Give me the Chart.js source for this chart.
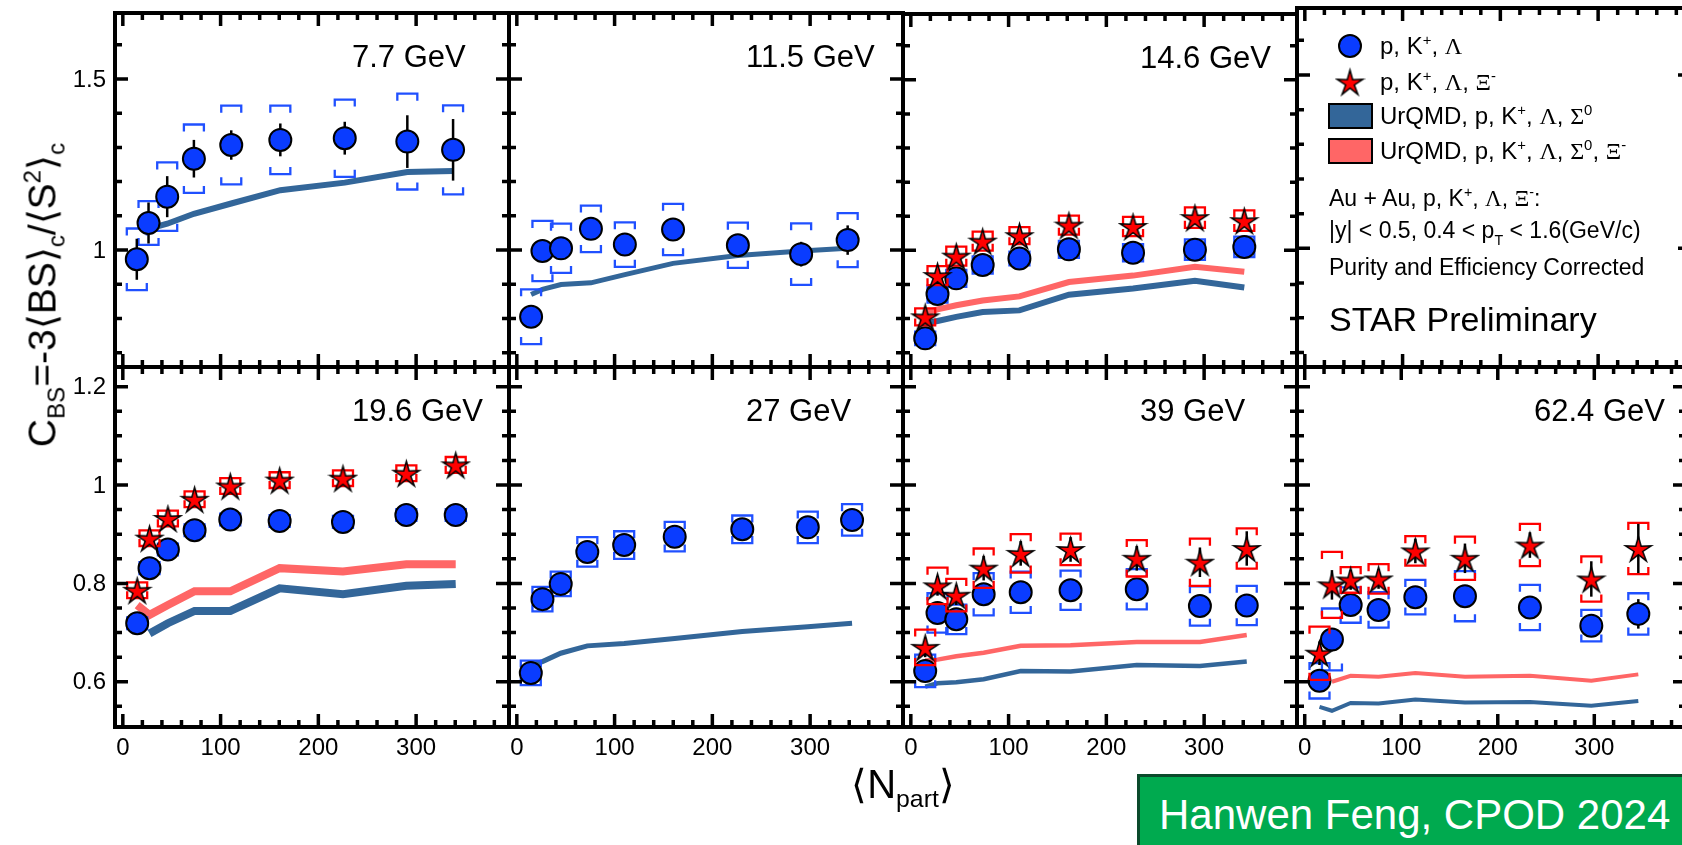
<!DOCTYPE html>
<html>
<head>
<meta charset="utf-8">
<title>C_BS vs Npart, STAR Preliminary</title>
<script src="https://cdn.jsdelivr.net/npm/chart.js@4.4.1/dist/chart.umd.min.js"></script>
<style>
  html, body { margin: 0; padding: 0; background: #fff; }
  body { width: 1682px; height: 845px; overflow: hidden; position: relative; }
  canvas { position: absolute; left: 0; top: 0; }
  .txt { position: absolute; white-space: nowrap; color: #000;
         font-family: "Liberation Sans", Arial, Helvetica, sans-serif; }
  .txt sup, .txt sub { font-size: 62%; line-height: 0; vertical-align: baseline; position: relative; }
  .txt sup { top: -0.62em; }
  .txt sub { top: 0.38em; }
  .gr { font-family: "Liberation Serif", "DejaVu Serif", serif; }
  .br { font-family: "DejaVu Sans", sans-serif; font-weight: 200; }
  .lg { font-size: 24px; height: 30px; line-height: 30px; }
  .note { font-size: 23px; height: 30px; line-height: 30px; }
  #ytitle { font-size: 39px; left: 42px; top: 295px; transform: translate(-50%, -50%) rotate(-90deg); }
  #xtitle { font-size: 40px; left: 903px; top: 784px; transform: translate(-50%, -50%); }
  #banner { position: absolute; left: 1137px; top: 774px; width: 560px; height: 80px;
            background: #00aa4f; border-top: 3px solid #0b4a2b; border-left: 3px solid #0b4a2b; box-sizing: border-box; }
  #banner span { position: absolute; left: 19px; top: 14px; font-size: 42px; line-height: 48px; color: #fff;
                 font-family: "Liberation Sans", Arial, Helvetica, sans-serif; white-space: nowrap; }
</style>
</head>
<body>
<div id="stage"></div>

<div id="ytitle" class="txt">C<sub>BS</sub>=-3<span class="br">⟨</span>BS<span class="br">⟩</span><sub>c</sub>/<span class="br">⟨</span>S<sup>2</sup><span class="br">⟩</span><sub>c</sub></div>
<div id="xtitle" class="txt"><span class="br">⟨</span>N<sub>part</sub><span class="br">⟩</span></div>

<div class="txt lg" style="left:1380px; top:31px;">p, K<sup>+</sup>, <span class="gr">Λ</span></div>
<div class="txt lg" style="left:1380px; top:67px;">p, K<sup>+</sup>, <span class="gr">Λ</span>, <span class="gr">Ξ</span><sup>-</sup></div>
<div class="txt lg" style="left:1380px; top:101px;">UrQMD, p, K<sup>+</sup>, <span class="gr">Λ</span>, <span class="gr">Σ</span><sup>0</sup></div>
<div class="txt lg" style="left:1380px; top:136px;">UrQMD, p, K<sup>+</sup>, <span class="gr">Λ</span>, <span class="gr">Σ</span><sup>0</sup>, <span class="gr">Ξ</span><sup>-</sup></div>
<div class="txt note" style="left:1329px; top:183px;">Au + Au, p, K<sup>+</sup>, <span class="gr">Λ</span>, <span class="gr">Ξ</span><sup>-</sup>:</div>
<div class="txt note" style="left:1329px; top:215px;">|y| &lt; 0.5, 0.4 &lt; p<sub style="top:0.5em">T</sub> &lt; 1.6(GeV/c)</div>
<div class="txt note" style="left:1329px; top:252px;">Purity and Efficiency Corrected</div>
<div class="txt" style="left:1329px; top:299px; font-size:34px; line-height:40px;">STAR Preliminary</div>

<div id="banner"><span>Hanwen Feng, CPOD 2024</span></div>

<script>
// ---- data ----
// 7.7 GeV
const npart77 = [14.3, 26.3, 45.4, 72.7, 110.9, 161.1, 227.0, 291.0, 337.8];
const cbs77 = [0.973, 1.079, 1.156, 1.267, 1.307, 1.322, 1.327, 1.317, 1.293];
const stat77 = [0.06, 0.06, 0.06, 0.055, 0.043, 0.048, 0.048, 0.077, 0.09];
const sys77 = [0.09, 0.064, 0.10, 0.10, 0.115, 0.10, 0.113, 0.14, 0.13];
const urqmd77 = [null, 1.062, 1.077, 1.106, 1.136, 1.175, 1.197, 1.228, 1.231];

// 11.5 GeV
const npart115 = [14.6, 26.2, 45.2, 75.8, 110.5, 159.8, 226.1, 290.8, 338.4];
const cbs115 = [0.805, 0.997, 1.005, 1.062, 1.016, 1.060, 1.014, 0.988, 1.029];
const stat115 = [0.01, 0.01, 0.01, 0.01, 0.01, 0.01, 0.01, 0.036, 0.043];
const sys115 = [0.08, 0.088, 0.072, 0.068, 0.065, 0.075, 0.066, 0.09, 0.079];
const urqmd115 = [0.870, 0.885, 0.899, 0.904, 0.928, 0.961, 0.984, 0.997, 1.005];

// 14.6 GeV
const npart146 = [14.7, 27.3, 46.5, 73.5, 111.1, 161.7, 227.3, 290.6, 341.1];
const cbs146 = [0.742, 0.872, 0.918, 0.957, 0.976, 1.003, 0.993, 1.002, 1.010];
const stat146 = [0.01, 0.01, 0.01, 0.01, 0.01, 0.01, 0.01, 0.01, 0.01];
const sys146 = [0.02, 0.025, 0.025, 0.025, 0.02, 0.025, 0.025, 0.03, 0.03];
const cbsXi146 = [0.805, 0.926, 0.983, 1.027, 1.043, 1.074, 1.070, 1.096, 1.087];
const statXi146 = [0.012, 0.012, 0.012, 0.012, 0.012, 0.012, 0.012, 0.012, 0.012];
const sysXi146 = [0.025, 0.028, 0.028, 0.028, 0.025, 0.028, 0.028, 0.03, 0.03];
const urqmd146 = [0.785, 0.793, 0.805, 0.819, 0.824, 0.870, 0.888, 0.911, 0.891];
const urqmdXi146 = [0.817, 0.827, 0.839, 0.853, 0.865, 0.907, 0.926, 0.952, 0.937];

// 19.6 GeV
const npart196 = [14.7, 27.3, 46.1, 73.4, 109.9, 160.4, 225.2, 290.0, 340.5];
const cbs196 = [0.719, 0.831, 0.869, 0.908, 0.930, 0.927, 0.925, 0.939, 0.939];
const stat196 = [0.008, 0.008, 0.008, 0.008, 0.008, 0.008, 0.008, 0.008, 0.008];
const sys196 = [0.012, 0.012, 0.012, 0.012, 0.012, 0.012, 0.012, 0.012, 0.012];
const cbsXi196 = [0.786, 0.892, 0.932, 0.971, 0.998, 1.010, 1.014, 1.024, 1.041];
const statXi196 = [0.01, 0.01, 0.01, 0.01, 0.01, 0.01, 0.01, 0.01, 0.01];
const sysXi196 = [0.016, 0.016, 0.016, 0.016, 0.016, 0.016, 0.016, 0.016, 0.016];
const urqmd196 = [null, 0.698, 0.719, 0.744, 0.744, 0.790, 0.778, 0.795, 0.799];
const urqmdXi196 = [0.756, 0.736, 0.756, 0.784, 0.784, 0.831, 0.824, 0.839, 0.839];

// 27 GeV
const npart27 = [14.3, 26.2, 44.9, 72.1, 109.8, 161.5, 230.6, 297.6, 342.9];
const cbs27 = [0.618, 0.768, 0.799, 0.864, 0.878, 0.895, 0.910, 0.914, 0.929];
const stat27 = [0.01, 0.01, 0.01, 0.01, 0.01, 0.01, 0.01, 0.01, 0.01];
const sys27 = [0.025, 0.025, 0.025, 0.03, 0.028, 0.03, 0.028, 0.032, 0.032];
const urqmd27 = [0.634, 0.641, 0.658, 0.673, 0.678, 0.688, 0.702, 0.712, 0.719];

// 39 GeV
const npart39 = [14.7, 27.3, 46.5, 74.5, 112.4, 163.4, 231.1, 295.7, 343.6];
const cbs39 = [0.622, 0.740, 0.727, 0.778, 0.782, 0.786, 0.788, 0.754, 0.755];
const stat39 = [0.015, 0.015, 0.015, 0.015, 0.015, 0.015, 0.015, 0.015, 0.015];
const sys39 = [0.033, 0.04, 0.03, 0.043, 0.042, 0.04, 0.041, 0.04, 0.04];
const cbsXi39 = [0.670, 0.795, 0.776, 0.831, 0.861, 0.869, 0.851, 0.843, 0.871];
const statXi39 = [0.02, 0.02, 0.02, 0.025, 0.025, 0.025, 0.025, 0.03, 0.035];
const sysXi39 = [0.036, 0.037, 0.033, 0.04, 0.039, 0.032, 0.037, 0.048, 0.041];
const urqmd39 = [0.590, 0.597, 0.599, 0.605, 0.622, 0.621, 0.634, 0.632, 0.641];
const urqmdXi39 = [0.643, 0.645, 0.652, 0.659, 0.673, 0.674, 0.681, 0.681, 0.695];

// 62.4 GeV
const npart624 = [15.3, 28.2, 47.6, 76.5, 114.6, 166.0, 233.3, 296.9, 345.6];
const cbs624 = [0.602, 0.686, 0.756, 0.746, 0.772, 0.774, 0.751, 0.714, 0.738];
const stat624 = [0.015, 0.02, 0.015, 0.015, 0.015, 0.015, 0.02, 0.02, 0.03];
const sys624 = [0.036, 0.063, 0.036, 0.036, 0.035, 0.051, 0.046, 0.032, 0.042];
const cbsXi624 = [0.658, 0.797, 0.807, 0.809, 0.866, 0.851, 0.878, 0.809, 0.871];
const statXi624 = [0.024, 0.03, 0.02, 0.02, 0.025, 0.03, 0.026, 0.036, 0.05];
const sysXi624 = [0.054, 0.067, 0.026, 0.03, 0.03, 0.044, 0.043, 0.046, 0.052];
const urqmd624 = [0.549, 0.541, 0.557, 0.556, 0.564, 0.558, 0.559, 0.551, 0.561];
const urqmdXi624 = [null, 0.600, 0.612, 0.610, 0.618, 0.610, 0.612, 0.602, 0.615];

// ---- axes ----
const xRange = [-8, 395];
const yRangeTop = [0.658, 1.693];
const yRangeBottom = [0.508, 1.24];
const xTicks = [0, 100, 200, 300];
const xTickLabels = ['0', '100', '200', '300'];
const yTicksTop = [1, 1.5];
const yTickLabelsTop = ['1', '1.5'];
const yTicksBottom = [0.6, 0.8, 1, 1.2];
const yTickLabelsBottom = ['0.6', '0.8', '1', '1.2'];
const energies = ['7.7 GeV', '11.5 GeV', '14.6 GeV', '19.6 GeV', '27 GeV', '39 GeV', '62.4 GeV'];

// ---- layout ----
const CANVAS_W = 1700, CANVAS_H = 845;
const COL_LEFT = [115, 509, 903, 1297];
const ROW_TOP = [8, 367];
const ROW_H = [359, 360];
const PANEL_W = 394;

const FONT = '"Liberation Sans", Arial, Helvetica, sans-serif';
const CIRCLE_BLUE = '#0a3cff';
const BRACKET_BLUE = '#2050ff';
const STAR_RED = '#ff0000';
const URQMD_BLUE = '#336699';
const URQMD_RED = '#ff6666';

const panels = [
  { col: 0, row: 0, title: energies[0], npart: npart77, cbs: cbs77, stat: stat77, sys: sys77, urqmd: urqmd77, lw: 6 },
  { col: 1, row: 0, title: energies[1], npart: npart115, cbs: cbs115, stat: stat115, sys: sys115, urqmd: urqmd115, lw: 5 },
  { col: 2, row: 0, title: energies[2], npart: npart146, cbs: cbs146, stat: stat146, sys: sys146, urqmd: urqmd146,
    cbsXi: cbsXi146, statXi: statXi146, sysXi: sysXi146, urqmdXi: urqmdXi146, lw: 6 },
  { col: 3, row: 0, legend: true },
  { col: 0, row: 1, title: energies[3], npart: npart196, cbs: cbs196, stat: stat196, sys: sys196, urqmd: urqmd196,
    cbsXi: cbsXi196, statXi: statXi196, sysXi: sysXi196, urqmdXi: urqmdXi196, lw: 8 },
  { col: 1, row: 1, title: energies[4], npart: npart27, cbs: cbs27, stat: stat27, sys: sys27, urqmd: urqmd27, lw: 5 },
  { col: 2, row: 1, title: energies[5], npart: npart39, cbs: cbs39, stat: stat39, sys: sys39, urqmd: urqmd39,
    cbsXi: cbsXi39, statXi: statXi39, sysXi: sysXi39, urqmdXi: urqmdXi39, lw: 4.5 },
  { col: 3, row: 1, title: energies[6], npart: npart624, cbs: cbs624, stat: stat624, sys: sys624, urqmd: urqmd624,
    cbsXi: cbsXi624, statXi: statXi624, sysXi: sysXi624, urqmdXi: urqmdXi624, lw: 4 }
];

// filled star marker used as a point style
function makeStar(R, r) {
  const c = document.createElement('canvas');
  const s = Math.ceil(2 * R + 4);
  c.width = s; c.height = s;
  const g = c.getContext('2d');
  g.translate(s / 2, s / 2 + 1.5);
  g.beginPath();
  for (let k = 0; k < 10; k++) {
    const rad = k % 2 === 0 ? R : r;
    const a = -Math.PI / 2 + k * Math.PI / 5;
    const px = rad * Math.cos(a), py = rad * Math.sin(a);
    if (k === 0) g.moveTo(px, py); else g.lineTo(px, py);
  }
  g.closePath();
  g.fillStyle = STAR_RED;
  g.fill();
  g.lineWidth = 1.5;
  g.strokeStyle = '#000';
  g.lineJoin = 'miter';
  g.stroke();
  return c;
}
const starImg = makeStar(13.5, 4.6);

function toXY(xs, ys) {
  const out = [];
  xs.forEach((x, i) => { if (ys[i] !== null) out.push({ x: x, y: ys[i] }); });
  return out;
}

function steps(from, to, step) {
  const out = [];
  const n = Math.round((to - from) / step);
  for (let i = 0; i <= n; i++) out.push(+(from + i * step).toFixed(4));
  return out;
}

const panelPlugin = {
  id: 'panelFrame',
  beforeDatasetDraw(chart, args) {
    const ds = chart.data.datasets[args.index];
    if (!ds.sysErr) return;
    const ctx = chart.ctx;
    const ys = chart.scales.y;
    const area = chart.chartArea;
    ctx.save();
    ctx.beginPath();
    ctx.rect(area.left, area.top, area.width, area.height);
    ctx.clip();
    // systematic brackets
    ctx.lineWidth = 2.3;
    ctx.strokeStyle = ds.sysColor;
    args.meta.data.forEach((pt, i) => {
      const v = ds.data[i].y;
      const yTop = ys.getPixelForValue(v + ds.sysErr[i]);
      const yBot = ys.getPixelForValue(v - ds.sysErr[i]);
      const hw = 10;
      const tk = Math.min(7, (yBot - yTop) / 2);
      ctx.beginPath();
      ctx.moveTo(pt.x - hw, yTop + tk); ctx.lineTo(pt.x - hw, yTop);
      ctx.lineTo(pt.x + hw, yTop); ctx.lineTo(pt.x + hw, yTop + tk);
      ctx.moveTo(pt.x - hw, yBot - tk); ctx.lineTo(pt.x - hw, yBot);
      ctx.lineTo(pt.x + hw, yBot); ctx.lineTo(pt.x + hw, yBot - tk);
      ctx.stroke();
    });
    // statistical bars
    ctx.lineWidth = 2.5;
    ctx.strokeStyle = '#000';
    args.meta.data.forEach((pt, i) => {
      const v = ds.data[i].y;
      ctx.beginPath();
      ctx.moveTo(pt.x, ys.getPixelForValue(v + ds.statErr[i]));
      ctx.lineTo(pt.x, ys.getPixelForValue(v - ds.statErr[i]));
      ctx.stroke();
    });
    ctx.restore();
  },
  afterDraw(chart) {
    const p = chart.options.plugins.panelFrame;
    const ctx = chart.ctx;
    const xs = chart.scales.x, ys = chart.scales.y;
    const a = chart.chartArea;
    ctx.save();
    ctx.strokeStyle = '#000';
    ctx.lineCap = 'butt';

    const yMajors = p.row === 0 ? yTicksTop : yTicksBottom;
    const yMinors = p.row === 0 ? steps(0.7, 1.6, 0.1) : steps(0.55, 1.2, 0.05);
    const xMinors = steps(0, 380, 20);

    ctx.lineWidth = 3.5;
    ctx.beginPath();
    const tick = (vals, len) => {
      vals.forEach(v => {
        const px = xs.getPixelForValue(v);
        ctx.moveTo(px, a.bottom); ctx.lineTo(px, a.bottom - len);
        ctx.moveTo(px, a.top); ctx.lineTo(px, a.top + len);
      });
    };
    const tickY = (vals, len) => {
      vals.forEach(v => {
        const py = ys.getPixelForValue(v);
        ctx.moveTo(a.left, py); ctx.lineTo(a.left + len, py);
        ctx.moveTo(a.right, py); ctx.lineTo(a.right - len, py);
      });
    };
    tick(xMinors, 7);
    tick(xTicks, 13);
    tickY(yMinors, 7);
    tickY(yMajors, 13);
    ctx.stroke();

    ctx.lineWidth = 4;
    ctx.strokeRect(a.left, a.top, a.width, a.height);

    ctx.fillStyle = '#000';
    ctx.font = '24px ' + FONT;
    if (p.col === 0) {
      const labels = p.row === 0 ? yTickLabelsTop : yTickLabelsBottom;
      ctx.textAlign = 'right';
      ctx.textBaseline = 'middle';
      yMajors.forEach((v, i) => ctx.fillText(labels[i], a.left - 9, ys.getPixelForValue(v) + 1));
    }
    if (p.row === 1) {
      ctx.textAlign = 'center';
      ctx.textBaseline = 'middle';
      xTicks.forEach((v, i) => ctx.fillText(xTickLabels[i], xs.getPixelForValue(v), a.bottom + 21));
    }
    if (p.title) {
      ctx.font = '31px ' + FONT;
      ctx.textAlign = 'left';
      ctx.textBaseline = 'middle';
      ctx.fillText(p.title, a.left + 237, a.top + 45);
    }
    if (p.legend) {
      // legend markers
      ctx.beginPath();
      ctx.arc(1350, 46, 11, 0, Math.PI * 2);
      ctx.fillStyle = CIRCLE_BLUE;
      ctx.fill();
      ctx.lineWidth = 2;
      ctx.stroke();
      ctx.drawImage(starImg, 1350 - starImg.width / 2, 82 - starImg.height / 2);
      ctx.lineWidth = 2;
      ctx.fillStyle = URQMD_BLUE;
      ctx.fillRect(1329, 104, 43, 24);
      ctx.strokeRect(1329, 104, 43, 24);
      ctx.fillStyle = URQMD_RED;
      ctx.fillRect(1329, 139, 43, 24);
      ctx.strokeRect(1329, 139, 43, 24);
    }
    ctx.restore();
  }
};

const stage = document.getElementById('stage');

panels.forEach(p => {
  const canvas = document.createElement('canvas');
  canvas.width = CANVAS_W;
  canvas.height = CANVAS_H;
  canvas.style.width = CANVAS_W + 'px';
  canvas.style.height = CANVAS_H + 'px';
  stage.appendChild(canvas);

  const left = COL_LEFT[p.col];
  const top = ROW_TOP[p.row];
  const h = ROW_H[p.row];
  const yRange = p.row === 0 ? yRangeTop : yRangeBottom;

  const datasets = [];
  if (!p.legend) {
    datasets.push({
      label: 'UrQMD, p, K+, Λ, Σ0',
      data: toXY(p.npart, p.urqmd),
      showLine: true, borderColor: URQMD_BLUE, borderWidth: p.lw,
      pointRadius: 0, tension: 0, fill: false, order: 4
    });
    if (p.urqmdXi) {
      datasets.push({
        label: 'UrQMD, p, K+, Λ, Σ0, Ξ-',
        data: toXY(p.npart, p.urqmdXi),
        showLine: true, borderColor: URQMD_RED, borderWidth: p.lw,
        pointRadius: 0, tension: 0, fill: false, order: 3
      });
    }
    datasets.push({
      label: 'p, K+, Λ',
      data: toXY(p.npart, p.cbs),
      statErr: p.stat, sysErr: p.sys, sysColor: BRACKET_BLUE,
      showLine: false, pointStyle: 'circle', pointRadius: 11,
      backgroundColor: CIRCLE_BLUE, borderColor: '#000', borderWidth: 2, order: 2
    });
    if (p.cbsXi) {
      datasets.push({
        label: 'p, K+, Λ, Ξ-',
        data: toXY(p.npart, p.cbsXi),
        statErr: p.statXi, sysErr: p.sysXi, sysColor: STAR_RED,
        showLine: false, pointStyle: starImg, pointRadius: 13,
        backgroundColor: STAR_RED, borderColor: '#000', order: 1
      });
    }
  }

  new Chart(canvas.getContext('2d'), {
    type: 'scatter',
    data: { datasets: datasets },
    options: {
      responsive: false,
      animation: false,
      events: [],
      devicePixelRatio: 1,
      layout: {
        padding: { left: left, top: top, right: CANVAS_W - left - PANEL_W, bottom: CANVAS_H - top - h }
      },
      plugins: {
        legend: { display: false },
        tooltip: { enabled: false },
        panelFrame: p
      },
      scales: {
        x: { type: 'linear', min: xRange[0], max: xRange[1], display: false },
        y: { type: 'linear', min: yRange[0], max: yRange[1], display: false }
      }
    },
    plugins: [panelPlugin]
  });
});
</script>
</body>
</html>
